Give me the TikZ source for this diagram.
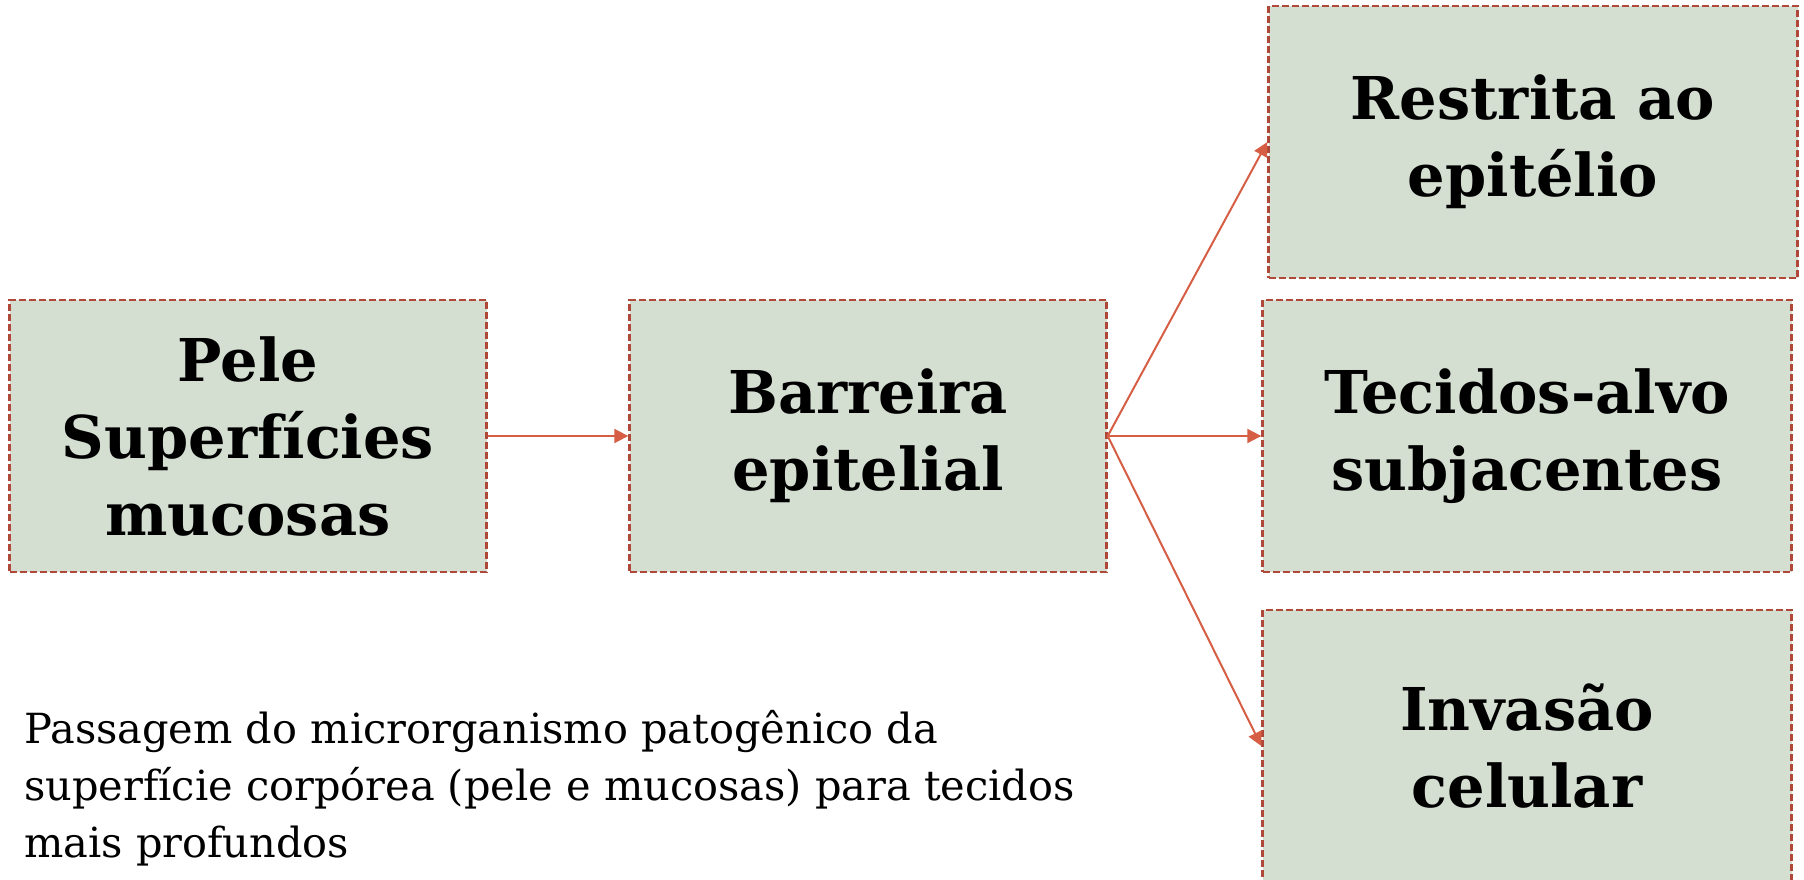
\documentclass[tikz,border=0pt]{standalone}
\usepackage{fontspec}
\setmainfont{DejaVu Serif}
\usetikzlibrary{arrows.meta}
\definecolor{boxfill}{RGB}{212,223,210}
\definecolor{boxline}{RGB}{175,72,56}
\definecolor{arrowc}{RGB}{214,94,68}
\begin{document}
\begin{tikzpicture}[x=1pt,y=-1pt,
  stage/.style={draw=boxline, fill=boxfill, line width=2.4pt, dash pattern=on 7pt off 3pt,
    minimum width=529pt, minimum height=272pt, inner sep=0pt, align=center,
    font=\fontsize{59}{77}\bfseries\selectfont},
  link/.style={draw=arrowc, line width=2pt, -{Triangle[length=14pt,width=14pt]}},
  caption/.style={align=left, inner sep=0pt, font=\fontsize{41.5}{57}\selectfont}]
\useasboundingbox (0,0) rectangle (1804,880);
\clip (0,0) rectangle (1804,880);
\node[stage, minimum width=477pt] (pele) at (248,436) {Pele\\Superfícies\\mucosas};
\node[stage, minimum width=477pt] (barr) at (868,436) {Barreira\\epitelial};
\node[stage] (rest) at (1533,142) {Restrita ao\\epitélio};
\node[stage] (teci) at (1527,436) {Tecidos-alvo\\subjacentes};
\node[stage] (inva) at (1527,746) {Invasão\\celular};
\node[caption, anchor=base west] (cap) at (24,857) {Passagem do microrganismo patogênico da\\superfície corpórea (pele e mucosas) para tecidos\\mais profundos};
\draw[link] (pele) -- (barr);
\draw[link] (barr.east) -- (rest.west);
\draw[link] (barr.east) -- (teci.west);
\draw[link] (barr.east) -- (inva.west);
\end{tikzpicture}
\end{document}
